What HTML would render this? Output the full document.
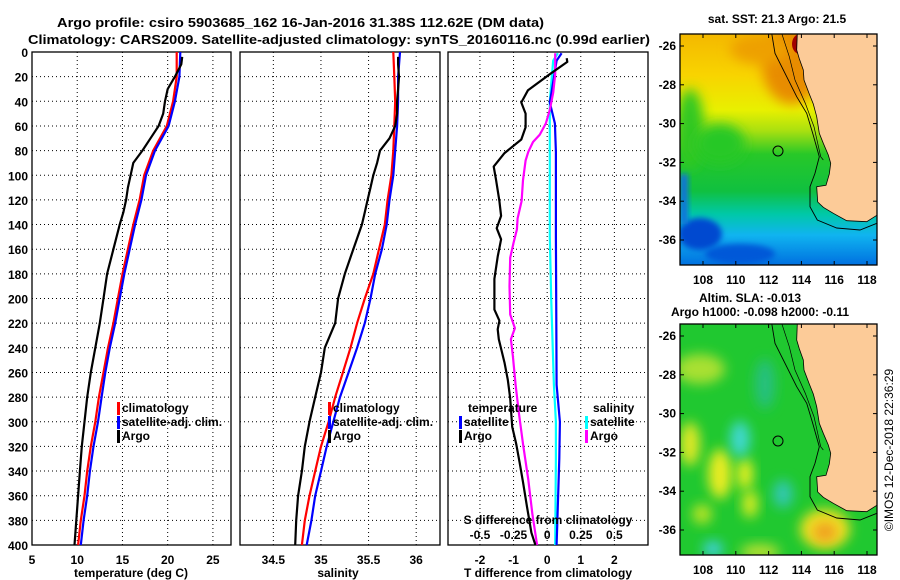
<!DOCTYPE html>
<html><head><meta charset="utf-8">
<style>
body{margin:0;background:#fff;}
svg{display:block;font-family:"Liberation Sans",sans-serif;font-weight:bold;}
text{fill:#000;}
</style></head>
<body>
<svg id="chart" width="900" height="580" viewBox="0 0 900 580" xmlns="http://www.w3.org/2000/svg">
<defs>
<filter id="blur4" x="-50%" y="-50%" width="200%" height="200%"><feGaussianBlur stdDeviation="6"/></filter>
<filter id="blur2" x="-50%" y="-50%" width="200%" height="200%"><feGaussianBlur stdDeviation="3"/></filter>
<linearGradient id="sstgrad" x1="0" y1="0" x2="0" y2="1">
<stop offset="0" stop-color="#F4B800"/><stop offset="0.18" stop-color="#F8D400"/>
<stop offset="0.33" stop-color="#E8F000"/><stop offset="0.42" stop-color="#A8E010"/>
<stop offset="0.52" stop-color="#28C828"/><stop offset="0.68" stop-color="#10C040"/>
<stop offset="0.78" stop-color="#00C8A8"/><stop offset="0.87" stop-color="#10B4F0"/>
<stop offset="1" stop-color="#0070E0"/></linearGradient>
<clipPath id="clipTop"><rect x="680" y="34" width="197" height="231"/></clipPath>
<clipPath id="clipBot"><rect x="680" y="324" width="197" height="231"/></clipPath>
</defs>
<text x="57" y="27" font-size="13" textLength="487" lengthAdjust="spacingAndGlyphs">Argo profile: csiro 5903685_162 16-Jan-2016 31.38S 112.62E (DM data)</text>
<text x="28" y="44" font-size="13" textLength="622" lengthAdjust="spacingAndGlyphs">Climatology: CARS2009. Satellite-adjusted climatology: synTS_20160116.nc (0.99d earlier)</text>
<g id="plots"></g>
<g id="maps"></g>
<text transform="translate(893,450) rotate(-90)" text-anchor="middle" font-size="12" font-weight="normal">©IMOS 12-Dec-2018 22:36:29</text>
</svg>
<script>
// ---- data ----
const depthTicks=[0,20,40,60,80,100,120,140,160,180,200,220,240,260,280,300,320,340,360,380,400];
const tempTicks=[5,10,15,20,25];
const salTicks=[34.5,35,35.5,36];
const salTickLabels=["34.5","35","35.5","36"];
const dTTicks=[-2,-1,0,1,2];
const dSTicks=[-0.5,-0.25,0,0.25,0.5];
const dSTickLabels=["-0.5","-0.25","0","0.25","0.5"];

const stdDepth=[0,20,40,60,80,100,120,140,160,180,200,220,240,260,280,300,320,340,360,380,400];
const tempClim=[21.0,21.0,20.6,19.9,18.4,17.4,16.9,16.2,15.6,15.0,14.5,14.0,13.4,12.9,12.4,12.0,11.5,11.1,10.8,10.4,10.1];
const tempSat=[21.4,21.3,20.8,20.1,18.6,17.6,17.1,16.4,15.8,15.2,14.7,14.2,13.6,13.1,12.7,12.3,11.8,11.4,11.1,10.7,10.4];
const salClim=[35.76,35.77,35.78,35.77,35.76,35.74,35.70,35.67,35.61,35.55,35.46,35.38,35.31,35.23,35.15,35.08,35.00,34.94,34.88,34.83,34.80];
const salSat=[35.83,35.81,35.81,35.80,35.78,35.76,35.72,35.69,35.64,35.57,35.52,35.46,35.38,35.29,35.20,35.13,35.06,35.00,34.94,34.90,34.85];

const argoDepth=[4,10,20,30,40,50,60,70,80,90,100,110,120,130,140,160,180,200,220,240,260,280,300,320,340,360,380,400];
const argoTemp=[21.6,21.5,20.8,20.0,19.7,19.5,19.0,18.1,17.2,16.2,15.9,15.6,15.4,15.1,14.7,14.0,13.3,12.9,12.5,12.0,11.5,11.1,10.8,10.5,10.3,10.1,9.9,9.7];
const argoSal=[35.81,35.81,35.82,35.81,35.80,35.80,35.78,35.72,35.62,35.59,35.55,35.52,35.49,35.46,35.43,35.34,35.25,35.18,35.15,35.04,35.00,34.94,34.88,34.83,34.80,34.76,34.74,34.73];

const diffDepth=[5,8,18,31,41,50,61,71,82,93,104,121,133,143,152,166,184,209,218,225,233,252,266,281,304,318,333,349,369,390,400];
const dTArgo=[0.58,0.6,0.08,-0.57,-0.77,-0.64,-0.64,-0.77,-1.27,-1.59,-1.52,-1.42,-1.37,-1.5,-1.37,-1.47,-1.57,-1.57,-1.42,-1.47,-1.44,-1.27,-1.17,-1.1,-1.04,-0.92,-0.82,-0.72,-0.6,-0.47,-0.35];
const dSDepth=[1,18,33,47,58,67,73,81,88,104,121,135,144,155,167,190,213,224,233,247,270,293,318,347,375,400];
const dSArgo=[0.06,0.06,0.045,0.02,-0.01,-0.055,-0.105,-0.14,-0.16,-0.18,-0.19,-0.22,-0.225,-0.25,-0.275,-0.28,-0.275,-0.24,-0.27,-0.255,-0.235,-0.21,-0.18,-0.14,-0.11,-0.075];
const satDiffDepth=[1,7,33,41,58,81,150,200,270,300,330,400];
const dTSat=[0.43,0.28,0.13,0.08,0.23,0.26,0.26,0.27,0.28,0.38,0.36,0.28];
const dSSat=[0.08,0.045,0.025,0.02,0.02,0.02,0.02,0.03,0.05,0.065,0.065,0.06];

// ---- geometry ----
const Y0=52,Y1=545;
const yD=d=>Y0+d*(Y1-Y0)/400;
const P1={x0:32,x1:231,min:5,max:27};
const P2={x0:240,x1:440,min:34.15,max:36.25};
const P3={x0:448,x1:648,min:-2.95,max:3.0};
const sx=(p,v)=>p.x0+(v-p.min)*(p.x1-p.x0)/(p.max-p.min);
const sxS=v=>sx(P3,v*4);
const NS="http://www.w3.org/2000/svg";
const plots=document.getElementById('plots');
function el(tag,attrs,parent,txt){const e=document.createElementNS(NS,tag);for(const k in attrs)e.setAttribute(k,attrs[k]);if(txt!==undefined)e.textContent=txt;(parent||plots).appendChild(e);return e;}

function panel(p,name,xticks,xlabels,xfun,xtitle,xtitleX){
  const g=el('g',{});
  
  
  depthTicks.forEach(d=>{if(d>0&&d<400){const l=el('line',{x1:p.x0,x2:p.x1,y1:yD(d),y2:yD(d),stroke:'#000','stroke-width':1,'stroke-dasharray':'1,3'},g);
    
    }});
  xticks.forEach((v,i)=>{const x=xfun(v);
    const l=el('line',{x1:x,x2:x,y1:Y0,y2:Y1,stroke:'#000','stroke-width':1,'stroke-dasharray':'1,3'},g);
    
    
    if(xlabels){const t=el('text',{x:x,y:564,'text-anchor':'middle','font-size':12},g,xlabels[i]);
      
      }});
  const r=el('rect',{x:p.x0,y:Y0,width:p.x1-p.x0,height:Y1-Y0,fill:'none',stroke:'#000','stroke-width':1.3},g);
  
  
  if(xtitle){const t=el('text',{x:xtitleX,y:577,'text-anchor':'middle','font-size':12},g,xtitle);
    
    }
  return g;
}
function line(g,depths,vals,xf,color,w,name){
  const pts=depths.map((d,i)=>xf(vals[i]).toFixed(1)+','+yD(d).toFixed(1)).join(' ');
  const pl=el('polyline',{points:pts,fill:'none',stroke:color,'stroke-width':w,'stroke-linejoin':'round'},g);
  
  
}
function legend(g,x,y,color,label,name){
  const r=el('rect',{x:x,y:y-10,width:3,height:13,fill:color},g);
  
  
  if(label){const t=el('text',{x:x+5,y:y,'font-size':12},g,label);
    
    }
}

// Y tick labels
depthTicks.forEach(d=>{const t=el('text',{x:28,y:yD(d)+5,'text-anchor':'end','font-size':12},plots,String(d));
  
  });

// Panel 1
const g1=panel(P1,'temperature-panel',tempTicks,tempTicks.map(String),v=>sx(P1,v),'temperature (deg C)',131);
const fT=v=>sx(P1,v);
line(g1,stdDepth,tempClim,fT,'#ff0000',2.2,'temperature-climatology-line');
line(g1,stdDepth,tempSat,fT,'#0000ff',2.2,'temperature-satellite-line');
line(g1,argoDepth,argoTemp,fT,'#000',2.2,'temperature-argo-line');
legend(g1,117,412,'#ff0000','climatology','legend-climatology');
legend(g1,117,426,'#0000ff','satellite-adj. clim.','legend-satellite-adj');
legend(g1,117,440,'#000','Argo','legend-argo');

// Panel 2
const g2=panel(P2,'salinity-panel',salTicks,salTickLabels,v=>sx(P2,v),'salinity',338);
const fS=v=>sx(P2,v);
line(g2,stdDepth,salClim,fS,'#ff0000',2.2,'salinity-climatology-line');
line(g2,stdDepth,salSat,fS,'#0000ff',2.2,'salinity-satellite-line');
line(g2,argoDepth,argoSal,fS,'#000',2.2,'salinity-argo-line');
legend(g2,328,412,'#ff0000','climatology','legend-climatology');
legend(g2,328,426,'#0000ff','satellite-adj. clim.','legend-satellite-adj');
legend(g2,328,440,'#000','Argo','legend-argo');

// Panel 3
const g3=panel(P3,'difference-panel',dTTicks,dTTicks.map(String),v=>sx(P3,v),'T difference from climatology',548);
const fD=v=>sx(P3,v);
line(g3,satDiffDepth,dSSat,sxS,'#00ffff',2.2,'salinity-satellite-diff-line');
line(g3,satDiffDepth,dTSat,fD,'#0000ff',2.2,'temperature-satellite-diff-line');
line(g3,dSDepth,dSArgo,sxS,'#ff00ff',2.2,'salinity-argo-diff-line');
line(g3,diffDepth,dTArgo,fD,'#000',2.2,'temperature-argo-diff-line');
{const t=el('text',{x:468,y:412,'font-size':12},g3,'temperature');}
{const t=el('text',{x:593,y:412,'font-size':12},g3,'salinity');}
legend(g3,459,426,'#0000ff','satellite','legend-temp-satellite');
legend(g3,459,440,'#000','Argo','legend-temp-argo');
legend(g3,585,426,'#00ffff','satellite','legend-sal-satellite');
legend(g3,585,440,'#ff00ff','Argo','legend-sal-argo');
{const t=el('text',{x:548,y:524,'text-anchor':'middle','font-size':12},g3,'S difference from climatology');}
dSTicks.forEach((v,i)=>{const t=el('text',{x:sxS(v),y:539,'text-anchor':'middle','font-size':12},g3,dSTickLabels[i]);
  
  });

// ---- maps ----
const maps=document.getElementById('maps');
const lonTicks=[108,110,112,114,116,118];
const latTicks=[-26,-28,-30,-32,-34,-36];
const MX0=680,MX1=877;
const lonX=lon=>703+(lon-108)*16.4;
const latY=(lat,top)=>top+12+(-26-lat)*19.4;
// coastline in zoom coords (x/3+660, y/3 relative to box top 34)
const landZ=[[412,100],[660,100],[660,640],[620,665],[560,662],[520,640],[490,622],[473,606],[470,560],[498,556],[508,522],[512,490],[505,465],[490,430],[478,400],[470,350],[460,312],[448,282],[432,240],[430,210],[418,176],[410,150]];
const iso1Z=[[335,100],[345,160],[380,230],[410,290],[440,340],[458,400],[478,470],[465,520],[450,560],[450,620],[472,660],[530,684],[600,690],[655,668]];
const iso2Z=[[365,100],[388,170],[405,240],[436,310],[462,380],[482,470],[490,480]];
const zp=(pts,off)=>pts.map(p=>(660+p[0]/3).toFixed(1)+','+(off+p[1]/3).toFixed(1)).join(' ');
function mapFrame(top,name,titles,bgFn){
  const g=document.createElementNS(NS,'g');maps.appendChild(g);
  
  
  const inner=document.createElementNS(NS,'g');g.appendChild(inner);
  inner.setAttribute('clip-path',top<100?'url(#clipTop)':'url(#clipBot)');
  bgFn(inner,top);
  el('polygon',{points:zp(landZ,top-34+0),fill:'#FCCB98',stroke:'#000','stroke-width':0.8},inner);
  el('polyline',{points:zp(iso1Z,top-34),fill:'none',stroke:'#000','stroke-width':0.9},inner);
  el('polyline',{points:zp(iso2Z,top-34),fill:'none',stroke:'#000','stroke-width':0.7},inner);
  const c=el('circle',{cx:778,cy:top+117,r:5,fill:'none',stroke:'#000','stroke-width':1},inner);
  
  
  const fr=el('rect',{x:MX0,y:top,width:MX1-MX0,height:231,fill:'none',stroke:'#000','stroke-width':1.3},g);
  
  
  lonTicks.forEach(l=>{const x=lonX(l);
    el('line',{x1:x,x2:x,y1:top,y2:top+4,stroke:'#000'},g);el('line',{x1:x,x2:x,y1:top+231,y2:top+227,stroke:'#000'},g);
    const t=el('text',{x:x,y:top+250,'text-anchor':'middle','font-size':12},g,String(l));
    
    });
  latTicks.forEach(l=>{const y=latY(l,top);
    el('line',{x1:MX0,x2:MX0+4,y1:y,y2:y,stroke:'#000'},g);el('line',{x1:MX1,x2:MX1-4,y1:y,y2:y,stroke:'#000'},g);
    const t=el('text',{x:676,y:y+4,'text-anchor':'end','font-size':12},g,String(l));
    
    });
  titles.forEach((tt,i)=>{const t=el('text',{x:tt[1],y:tt[2],'text-anchor':'middle','font-size':12},g,tt[0]);
    
    });
}
mapFrame(34,'sst-map',[['sat. SST: 21.3  Argo: 21.5',777,23]],(g,top)=>{
  el('rect',{x:MX0,y:top,width:197,height:231,fill:'url(#sstgrad)'},g);
  el('ellipse',{cx:792,cy:top+30,rx:30,ry:40,fill:'#E88C00',filter:'url(#blur4)'},g);
  el('ellipse',{cx:760,cy:top+15,rx:30,ry:15,fill:'#EEA000',filter:'url(#blur4)'},g);
  el('ellipse',{cx:690,cy:top+95,rx:14,ry:40,fill:'#30C820',filter:'url(#blur4)'},g);
  el('ellipse',{cx:720,cy:top+110,rx:25,ry:20,fill:'#28C828',filter:'url(#blur4)'},g);
  el('ellipse',{cx:700,cy:top+200,rx:22,ry:16,fill:'#0048D0',filter:'url(#blur2)'},g);
  el('ellipse',{cx:740,cy:top+220,rx:35,ry:10,fill:'#0058D8',filter:'url(#blur2)'},g);
  el('rect',{x:680,y:top+140,width:8,height:50,fill:'#1070E0',filter:'url(#blur2)'},g);
  el('ellipse',{cx:800,cy:top+10,rx:8,ry:10,fill:'#A00000'},g);
});
mapFrame(324,'sla-map',[['Altim. SLA: -0.013',750,302],['Argo h1000: -0.098 h2000: -0.11',760,316]],(g,top)=>{
  el('rect',{x:MX0,y:top,width:197,height:231,fill:'#20C830'},g);
  const blobs=[[690,top+120,10,22,'#E0E828'],[700,top+45,25,15,'#A8E030'],[720,top+150,12,25,'#E8EC20'],[745,top+150,8,16,'#E8F020'],[750,top+180,8,14,'#D8EC20'],[702,top+190,10,10,'#B8E428'],
    [740,top+115,10,18,'#40D8D0'],[783,top+170,10,14,'#30C8B0'],[713,top+225,10,8,'#40D0E0'],[765,top+60,10,25,'#28C080'],
    [825,top+205,25,20,'#F0E020'],[825,top+208,12,10,'#F0A020'],[760,top+228,20,8,'#B8E030']];
  blobs.forEach(b=>el('ellipse',{cx:b[0],cy:b[1],rx:b[2],ry:b[3],fill:b[4],filter:'url(#blur4)'},g));
});
</script>
</body></html>
